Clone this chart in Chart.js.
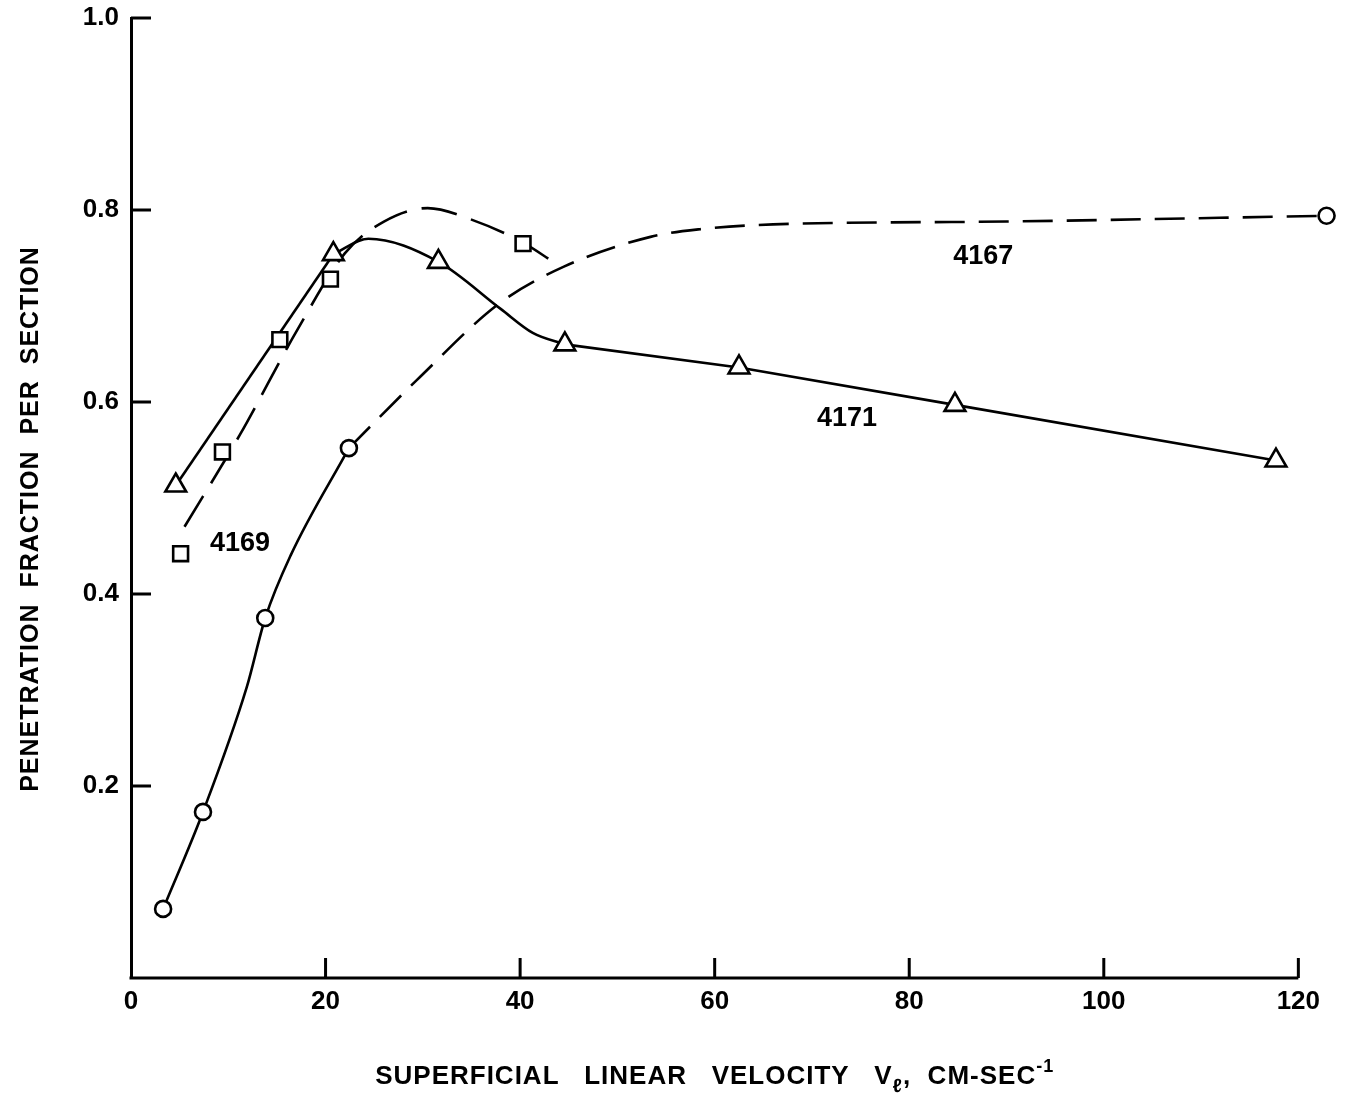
<!DOCTYPE html>
<html>
<head>
<meta charset="utf-8">
<title>Penetration fraction per section</title>
<script src="https://cdn.jsdelivr.net/npm/chart.js@4.4.1/dist/chart.umd.min.js"></script>
<style>
  html, body { margin: 0; padding: 0; background: #fff; }
  #wrap { width: 1347px; height: 1095px; }
</style>
</head>
<body>
<div id="wrap"><canvas id="chart" width="1347" height="1095"></canvas></div>
<script>
// Measured points, one pair of arrays per run (velocity in cm/s, fraction)
const V_4167 = [3.3, 7.4, 13.8, 22.4, 122.9];
const P_4167 = [0.072, 0.173, 0.375, 0.552, 0.794];

const V_4169 = [5.1, 9.4, 15.3, 20.5, 40.3];
const P_4169 = [0.442, 0.548, 0.665, 0.728, 0.765];

const V_4171 = [4.6, 20.8, 31.6, 44.6, 62.5, 84.7, 117.7];
const P_4171 = [0.513, 0.754, 0.746, 0.660, 0.636, 0.597, 0.539];

// Hand-drawn fitted curves, traced along their length
const CURVE_4167_SOLID_X = [3.3, 7.4, 11.9, 13.8, 16.4, 22.4];
const CURVE_4167_SOLID_Y = [0.072, 0.173, 0.303, 0.375, 0.440, 0.552];
const CURVE_4167_DASH_X = [22.4, 29.4, 37.9, 44.5, 53.4, 58.5, 66.0, 90.0, 122.9];
const CURVE_4167_DASH_Y = [0.552, 0.623, 0.703, 0.741, 0.772, 0.780, 0.785, 0.788, 0.794];

const CURVE_4169_X = [5.5, 11.2, 17.2, 22.0, 26.0, 30.5, 35.0, 40.3, 43.4];
const CURVE_4169_Y = [0.470, 0.566, 0.677, 0.755, 0.788, 0.802, 0.790, 0.766, 0.746];

// 4171 is straight up to the second triangle and after the fourth;
// only the hump in between is curved
const CURVE_4171_HUMP_X = [20.8, 24.4, 31.6, 38.0, 41.3, 44.6];
const CURVE_4171_HUMP_Y = [0.754, 0.770, 0.746, 0.697, 0.672, 0.660];

// Axis ticks
const X_TICKS = [0, 20, 40, 60, 80, 100, 120];
const Y_TICKS = [0.2, 0.4, 0.6, 0.8, 1.0];

// Run labels written beside each curve
const RUN_NAMES = ["4169", "4167", "4171"];
const RUN_LABEL_X = [11.2, 87.6, 73.6];
const RUN_LABEL_Y = [0.453, 0.751, 0.583];


const FONT = "'Liberation Sans', Arial, Helvetica, sans-serif";
const INK = "#000";
const TICK_LEN = 20;
const X_AXIS_END = 120;   // axis line stops here; the last 4167 point lies past it

function pts(xs, ys) {
  return xs.map((x, i) => ({ x, y: ys[i] }));
}

function curve(xs, ys, dash, smooth) {
  return {
    data: pts(xs, ys),
    showLine: true,
    borderColor: INK,
    borderWidth: 2.6,
    borderDash: dash,
    cubicInterpolationMode: smooth ? "monotone" : "default",
    tension: 0,
    pointRadius: 0,
    fill: false,
    clip: false,
    order: 1,
  };
}

function markers(xs, ys, style, radius) {
  return {
    data: pts(xs, ys),
    showLine: false,
    pointStyle: style,
    pointRadius: radius,
    pointBorderWidth: 2.6,
    pointBorderColor: INK,
    pointBackgroundColor: "#fff",
    clip: false,
    order: 0,
  };
}

// Draws the x axis line, inward tick marks, axis titles and the run labels
const decorations = {
  id: "decorations",
  beforeDatasetsDraw(chart) {
    const { ctx, chartArea: area, scales: { x, y } } = chart;
    ctx.save();
    ctx.strokeStyle = INK;
    ctx.lineWidth = 3;
    ctx.beginPath();
    ctx.moveTo(area.left - 1.5, area.bottom);
    ctx.lineTo(x.getPixelForValue(X_AXIS_END), area.bottom);
    X_TICKS.filter(v => v > 0).forEach(v => {
      const px = x.getPixelForValue(v);
      ctx.moveTo(px, area.bottom);
      ctx.lineTo(px, area.bottom - TICK_LEN);
    });
    Y_TICKS.forEach(v => {
      const py = y.getPixelForValue(v);
      ctx.moveTo(area.left, py);
      ctx.lineTo(area.left + TICK_LEN, py);
    });
    ctx.stroke();
    ctx.restore();
  },
  afterDraw(chart) {
    const { ctx, chartArea: area, scales: { x, y } } = chart;
    ctx.save();
    ctx.fillStyle = INK;

    // run labels
    ctx.font = `bold 27px ${FONT}`;
    ctx.textAlign = "center";
    ctx.textBaseline = "middle";
    RUN_NAMES.forEach((name, i) => {
      ctx.fillText(name, x.getPixelForValue(RUN_LABEL_X[i]), y.getPixelForValue(RUN_LABEL_Y[i]));
    });

    // y title, rotated
    ctx.save();
    ctx.translate(31, area.top + 501);
    ctx.rotate(-Math.PI / 2);
    ctx.font = `bold 25px ${FONT}`;
    ctx.letterSpacing = "1px";
    ctx.textAlign = "center";
    ctx.textBaseline = "middle";
    ctx.fillText("PENETRATION  FRACTION  PER  SECTION", 0, 0);
    ctx.restore();

    // x title with subscript and superscript
    const parts = [
      { t: "SUPERFICIAL   LINEAR   VELOCITY   V", size: 26, dy: 0 },
      { t: "\u2113", size: 19, dy: 8 },
      { t: ",  CM-SEC", size: 26, dy: 0 },
      { t: "-1", size: 18, dy: -12 },
    ];
    ctx.letterSpacing = "1px";
    ctx.textAlign = "left";
    ctx.textBaseline = "alphabetic";
    let total = 0;
    parts.forEach(p => {
      ctx.font = `bold ${p.size}px ${FONT}`;
      p.w = ctx.measureText(p.t).width;
      total += p.w;
    });
    let cx = (area.left + x.getPixelForValue(X_AXIS_END)) / 2 - total / 2;
    const base = area.bottom + 106;
    parts.forEach(p => {
      ctx.font = `bold ${p.size}px ${FONT}`;
      ctx.fillText(p.t, cx, base + p.dy);
      cx += p.w;
    });
    ctx.restore();
  },
};

new Chart(document.getElementById("chart"), {
  type: "scatter",
  data: {
    datasets: [
      markers(V_4167, P_4167, "circle", 8),
      markers(V_4169, P_4169, "rect", 10.5),
      markers(V_4171, P_4171, "triangle", 12),
      curve(CURVE_4167_SOLID_X, CURVE_4167_SOLID_Y, [], true),
      curve(CURVE_4167_DASH_X, CURVE_4167_DASH_Y, [30, 14], true),
      curve(CURVE_4169_X, CURVE_4169_Y, [36, 15], true),
      curve(V_4171.slice(0, 2), P_4171.slice(0, 2), [], false),
      curve(CURVE_4171_HUMP_X, CURVE_4171_HUMP_Y, [], true),
      curve(V_4171.slice(3), P_4171.slice(3), [], false),
    ],
  },
  options: {
    responsive: false,
    animation: false,
    events: [],
    layout: { padding: { left: 0, top: 18, right: 6, bottom: 0 } },
    plugins: { legend: { display: false }, tooltip: { enabled: false } },
    scales: {
      x: {
        type: "linear",
        min: 0,
        max: 123.5,
        afterFit: s => {
          s.height = 117;
          s.paddingLeft = 0;
          s.paddingRight = 0;
        },
        afterBuildTicks: s => { s.ticks = X_TICKS.map(v => ({ value: v })); },
        grid: { display: false, drawTicks: false },
        border: { display: false },
        ticks: {
          padding: 8,
          color: INK,
          font: { family: FONT, size: 26, weight: "bold" },
          maxRotation: 0,
        },
      },
      y: {
        type: "linear",
        min: 0,
        max: 1.0,
        afterFit: s => {
          s.width = 131;
          s.paddingTop = 0;
          s.paddingBottom = 0;
        },
        afterBuildTicks: s => { s.ticks = Y_TICKS.map(v => ({ value: v })); },
        grid: { display: false, drawTicks: false },
        border: { display: true, color: INK, width: 3 },
        ticks: {
          padding: 12,
          color: INK,
          font: { family: FONT, size: 26, weight: "bold" },
          callback: v => v.toFixed(1),
        },
      },
    },
  },
  plugins: [decorations],
});
</script>
</body>
</html>
